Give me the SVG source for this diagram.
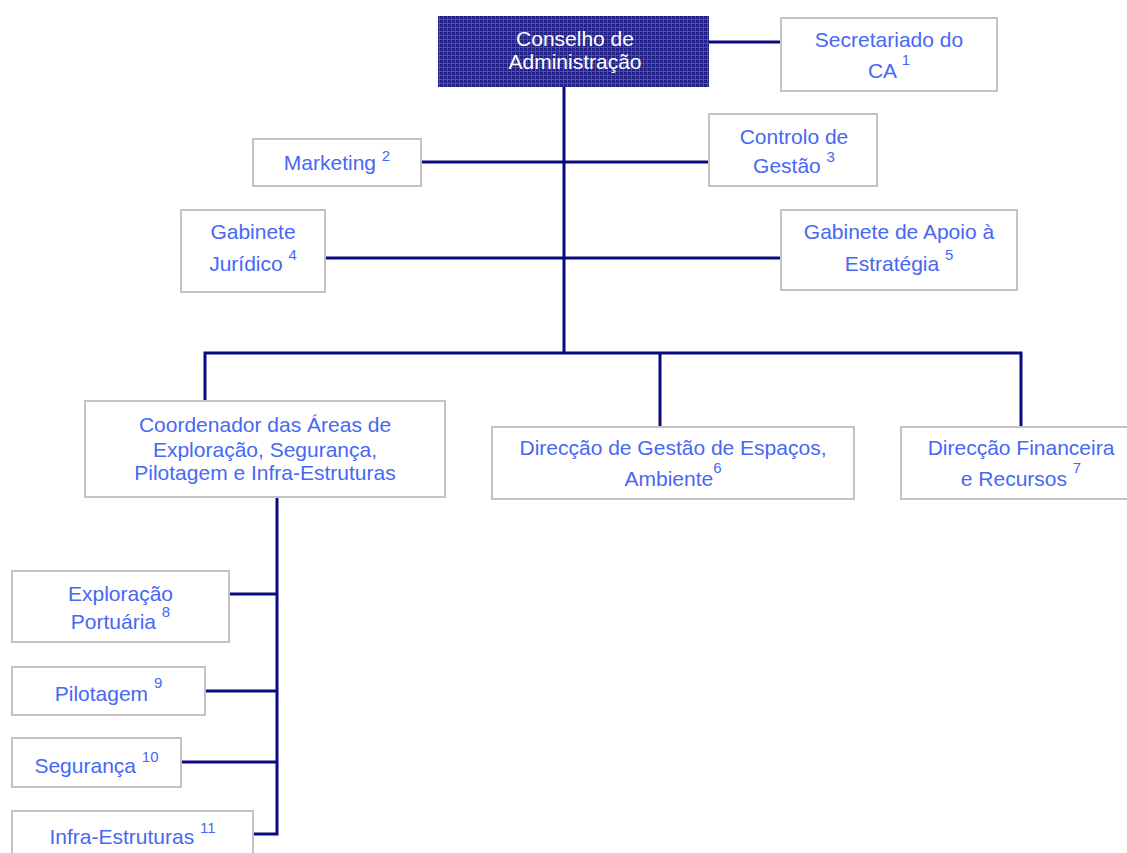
<svg xmlns="http://www.w3.org/2000/svg" width="1127" height="853" viewBox="0 0 1127 853">
<style>
.box{fill:#fff;stroke:#c4c4c4;stroke-width:2}
.t{font-family:"Liberation Sans",Arial,sans-serif;font-size:21px;fill:#4767f5;text-anchor:middle}
.w{fill:#fff}
.s{font-size:15px}
.c{stroke:#0a0a80;stroke-width:3;fill:none}
</style>
<defs>
<pattern id="dots" width="4" height="4" patternUnits="userSpaceOnUse">
<rect width="4" height="4" fill="#4c4cbc"/>
<rect width="3" height="3" fill="#1e1e86"/>
<rect x="1" y="1" width="1" height="1" fill="#3434a0"/>
</pattern>
</defs>
<g id="connectors">
<line class="c" x1="709" y1="42" x2="781" y2="42"/>
<line class="c" x1="564" y1="87" x2="564" y2="353"/>
<line class="c" x1="421" y1="162" x2="709" y2="162"/>
<line class="c" x1="325" y1="258" x2="781" y2="258"/>
<polyline class="c" points="205,401 205,353 1021,353 1021,427"/>
<line class="c" x1="660" y1="353" x2="660" y2="427"/>
<polyline class="c" points="277,497 277,834 253,834"/>
<line class="c" x1="229" y1="594" x2="277" y2="594"/>
<line class="c" x1="205" y1="691" x2="277" y2="691"/>
<line class="c" x1="181" y1="762" x2="277" y2="762"/>
</g>
<g id="ca">
<rect x="438" y="16" width="271" height="71" fill="url(#dots)"/>
<text class="t w" x="575" y="46">Conselho de</text>
<text class="t w" x="575" y="69">Administração</text>
</g>
<g id="secretariado">
<rect class="box" x="781" y="18" width="216" height="73"/>
<text class="t" x="889" y="47">Secretariado do</text>
<text class="t" x="889" y="78">CA <tspan class="s" dy="-13">1</tspan></text>
</g>
<g id="marketing">
<rect class="box" x="253" y="139" width="168" height="47"/>
<text class="t" x="337" y="170">Marketing <tspan class="s" dy="-9">2</tspan></text>
</g>
<g id="controlo">
<rect class="box" x="709" y="114" width="168" height="72"/>
<text class="t" x="794" y="144">Controlo de</text>
<text class="t" x="794" y="173">Gestão <tspan class="s" dy="-11">3</tspan></text>
</g>
<g id="juridico">
<rect class="box" x="181" y="210" width="144" height="82"/>
<text class="t" x="253" y="239">Gabinete</text>
<text class="t" x="253" y="271">Jurídico <tspan class="s" dy="-11">4</tspan></text>
</g>
<g id="apoio">
<rect class="box" x="781" y="210" width="236" height="80"/>
<text class="t" x="899" y="239">Gabinete de Apoio à</text>
<text class="t" x="899" y="271">Estratégia <tspan class="s" dy="-11">5</tspan></text>
</g>
<g id="coordenador">
<rect class="box" x="85" y="401" width="360" height="96"/>
<text class="t" x="265" y="432">Coordenador das Áreas de</text>
<text class="t" x="265" y="457">Exploração, Segurança,</text>
<text class="t" x="265" y="480">Pilotagem e Infra-Estruturas</text>
</g>
<g id="espacos">
<rect class="box" x="492" y="427" width="362" height="72"/>
<text class="t" x="673" y="455">Direcção de Gestão de Espaços,</text>
<text class="t" x="673" y="486">Ambiente<tspan class="s" dy="-13">6</tspan></text>
</g>
<g id="financeira">
<rect class="box" x="901" y="427" width="240" height="72"/>
<text class="t" x="1021" y="455">Direcção Financeira</text>
<text class="t" x="1021" y="486">e Recursos <tspan class="s" dy="-13">7</tspan></text>
</g>
<g id="exploracao">
<rect class="box" x="12" y="571" width="217" height="71"/>
<text class="t" x="120.5" y="601">Exploração</text>
<text class="t" x="120.5" y="629">Portuária <tspan class="s" dy="-12">8</tspan></text>
</g>
<g id="pilotagem">
<rect class="box" x="12" y="667" width="193" height="48"/>
<text class="t" x="108.5" y="701">Pilotagem <tspan class="s" dy="-13">9</tspan></text>
</g>
<g id="seguranca">
<rect class="box" x="12" y="738" width="169" height="49"/>
<text class="t" x="96.5" y="773">Segurança <tspan class="s" dy="-11">10</tspan></text>
</g>
<g id="infra">
<rect class="box" x="12" y="811" width="241" height="60"/>
<text class="t" x="132.5" y="844">Infra-Estruturas <tspan class="s" dy="-11">11</tspan></text>
</g>
</svg>
